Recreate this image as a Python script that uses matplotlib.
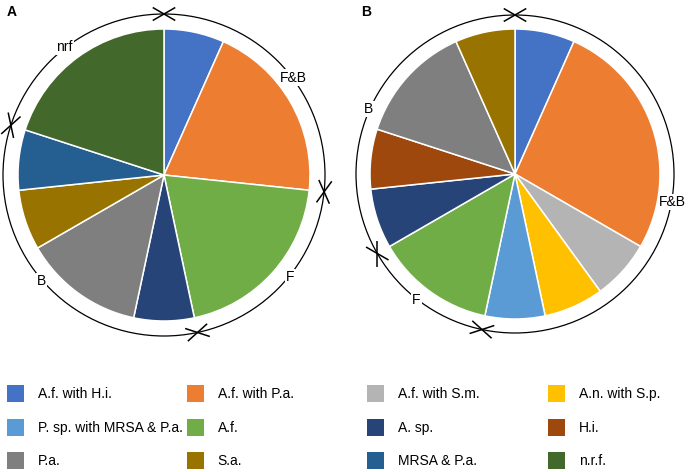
import numpy as np
import matplotlib
matplotlib.use("Agg")
import matplotlib.pyplot as plt
from matplotlib.patches import Circle, Patch

plt.rcParams['font.family'] = ['Liberation Sans', 'DejaVu Sans']

# legend categories (row by row as shown) and their colours
categories = ['A.f. with H.i.', 'A.f. with P.a.', 'A.f. with S.m.', 'A.n. with S.p.',
              'P. sp. with MRSA & P.a.', 'A.f.', 'A. sp.', 'H.i.',
              'P.a.', 'S.a.', 'MRSA & P.a.', 'n.r.f.']
cat_colors = ['#4472C4', '#ED7D31', '#B4B4B4', '#FFC000',
              '#5B9BD5', '#70AD47', '#264478', '#9E480E',
              '#7F7F7F', '#997300', '#255E91', '#43682B']
color_of = dict(zip(categories, cat_colors))

# panel A slices (clockwise from top)
a_labels = ['A.f. with H.i.', 'A.f. with P.a.', 'A.f.', 'A. sp.', 'P.a.', 'S.a.',
            'MRSA & P.a.', 'n.r.f.']
a_counts = [1, 3, 3, 1, 2, 1, 1, 3]
a_groups = ['F&B', 'F', 'B', 'nrf']
a_group_sizes = [4, 3, 5, 3]

# panel B slices (clockwise from top)
b_labels = ['A.f. with H.i.', 'A.f. with P.a.', 'A.f. with S.m.', 'A.n. with S.p.',
            'P. sp. with MRSA & P.a.', 'A.f.', 'A. sp.', 'H.i.', 'P.a.', 'S.a.']
b_counts = [1, 4, 1, 1, 1, 2, 1, 1, 2, 1]
b_groups = ['F&B', 'F', 'B']
b_group_sizes = [8, 2, 5]

W, H = 688, 472
fig = plt.figure(figsize=(W / 100, H / 100), dpi=100)
ax = fig.add_axes([0, 0, 1, 1])


def draw_panel(ax, labels, counts, sizes, groups, label_ang, cx, cy, r, ra, letter, lx):
    ax.pie(counts, colors=[color_of[l] for l in labels], startangle=90,
           counterclock=False, center=(cx, cy), radius=r,
           wedgeprops=dict(edgecolor='white', linewidth=1.1))
    ax.add_patch(Circle((cx, cy), ra, fill=False, ec='black', lw=0.9))
    total = float(sum(sizes))
    edges = np.concatenate([[0], np.cumsum(sizes)]) / total * 360.0
    # X marks at group boundaries
    for c in edges[:-1]:
        cr = np.radians(c)
        px, py = cx + ra * np.sin(cr), cy + ra * np.cos(cr)
        tx, ty = np.cos(cr), -np.sin(cr)
        for s in (30, -30):
            a = np.radians(s)
            dx = tx * np.cos(a) - ty * np.sin(a)
            dy = tx * np.sin(a) + ty * np.cos(a)
            ax.plot([px - 13 * dx, px + 13 * dx], [py - 13 * dy, py + 13 * dy],
                    color='black', lw=1.1, solid_capstyle='butt')
    # group labels sitting on the arc (white box breaks the arc)
    for g, c in zip(groups, label_ang):
        cm = np.radians(c)
        ax.text(cx + (ra + 1) * np.sin(cm), cy + (ra + 1) * np.cos(cm), g,
                fontsize=10, ha='center', va='center',
                bbox=dict(fc='white', ec='none', pad=0.8))
    ax.text(lx, H - 12, letter, fontsize=10, fontweight='bold', va='center')


draw_panel(ax, a_labels, a_counts, a_group_sizes, a_groups, [53, 129, 229, 322],
           164, H - 175, 146, 161, 'A', 7)
draw_panel(ax, b_labels, b_counts, b_group_sizes, b_groups, [100, 218, 294],
           515, H - 174, 145, 159, 'B', 361)

ax.set_xlim(0, W)
ax.set_ylim(0, H)
ax.set_aspect('equal')
ax.axis('off')

# legend: 4 columns, 3 rows
col_x = [7, 187, 367, 548]
for j in range(4):
    items = categories[j::4]
    handles = [Patch(fc=color_of[c], ec='none') for c in items]
    fig.legend(handles, items, loc='upper left',
               bbox_to_anchor=(col_x[j] / W, 1 - 385 / H),
               frameon=False, fontsize=10, handlelength=1.25, handleheight=1.5,
               handletextpad=0.95, labelspacing=1.2, borderpad=0,
               borderaxespad=0)

fig.savefig('out.png', dpi=100)
